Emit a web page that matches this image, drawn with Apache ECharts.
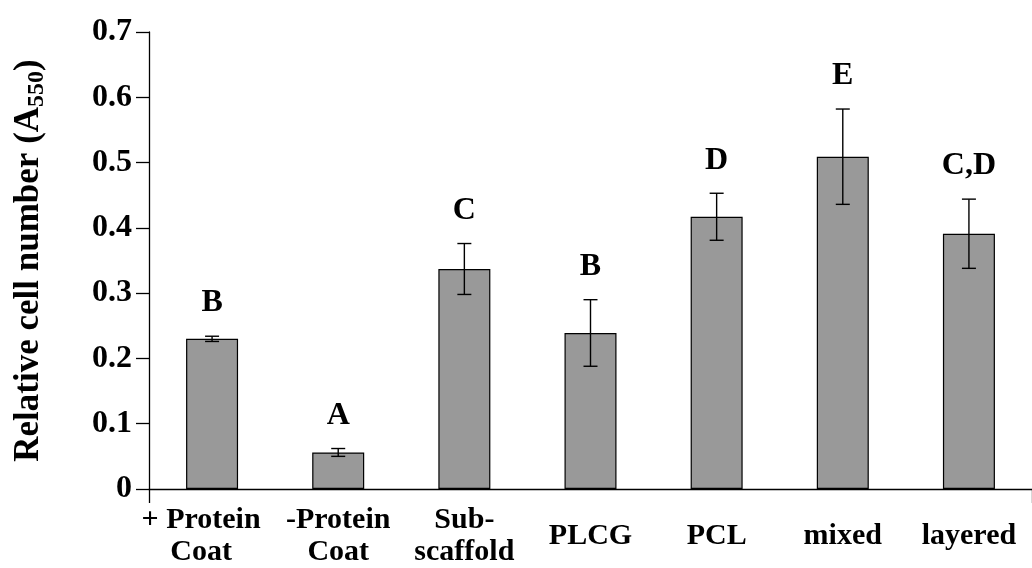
<!DOCTYPE html>
<html>
<head>
<meta charset="utf-8">
<script src="https://cdn.jsdelivr.net/npm/echarts@6/dist/echarts.min.js"></script>
<style>
html,body{margin:0;padding:0;background:#fff;}
#chart{width:1032px;height:568px;}
</style>
</head>
<body>
<div id="chart"></div>
<script>
var categories = ['+ Protein\nCoat', '-Protein\nCoat', 'Sub-\nscaffold', 'PLCG', 'PCL', 'mixed', 'layered'];
var means = [0.230, 0.056, 0.337, 0.239, 0.417, 0.509, 0.391];
var errors = [0.004, 0.006, 0.039, 0.051, 0.036, 0.073, 0.053];
var letters = ['B', 'A', 'C', 'B', 'D', 'E', 'C,D'];

var serif = 'Liberation Serif';
var errData = means.map(function (m, i) { return [i, m, errors[i], letters[i]]; });

var chart = echarts.init(document.getElementById('chart'), null, {renderer: 'canvas'});
chart.setOption({
  animation: false,
  backgroundColor: '#fff',
  grid: {left: 149, right: -10, top: 32, bottom: 79, containLabel: false},
  xAxis: {
    type: 'category',
    data: categories,
    boundaryGap: true,
    axisLine: {show: true, lineStyle: {color: '#000', width: 1.3}},
    axisTick: {show: true, length: 14, inside: false, interval: function (i) { return i === 0; }, lineStyle: {color: '#000', width: 1.3}},
    axisLabel: {
      interval: 0,
      margin: 47,
      verticalAlign: 'middle',
      color: '#000',
      fontFamily: serif,
      fontWeight: 'bold',
      fontSize: 30,
      lineHeight: 32,
      formatter: function (v, i) {
        var lines = v.split('\n');
        var tag = i === 0 ? 'f' : 'n';
        return lines.map(function (l) { return '{' + tag + '|' + l + '}'; }).join('\n');
      },
      rich: {
        f: {fontFamily: serif, fontWeight: 'bold', fontSize: 30, lineHeight: 32, color: '#000', padding: [0, 22, 0, 0]},
        n: {fontFamily: serif, fontWeight: 'bold', fontSize: 30, lineHeight: 32, color: '#000'}
      }
    },
    splitLine: {show: false}
  },
  yAxis: {
    type: 'value',
    min: 0,
    max: 0.7,
    interval: 0.1,
    name: 'Relative cell number (A{sub|550})',
    nameLocation: 'middle',
    nameGap: 100,
    nameTextStyle: {
      color: '#000', fontFamily: serif, fontWeight: 'bold', fontSize: 35, lineHeight: 40,
      rich: {
        sub: {color: '#000', fontFamily: serif, fontWeight: 'bold', fontSize: 24, lineHeight: 24, verticalAlign: 'bottom'}
      }
    },
    axisLine: {show: true, lineStyle: {color: '#000', width: 1.3}},
    axisTick: {show: true, length: 13, inside: false, lineStyle: {color: '#000', width: 1.3}},
    axisLabel: {
      margin: 17,
      color: '#000',
      fontFamily: serif,
      fontWeight: 'bold',
      fontSize: 32,
      formatter: function (v) { return v === 0 ? '0' : v.toFixed(1); }
    },
    splitLine: {show: false}
  },
  series: [
    {
      type: 'bar',
      data: means,
      barWidth: 52,
      itemStyle: {color: '#999999', borderColor: '#000', borderWidth: 1.2}
    },
    {
      type: 'custom',
      data: errData,
      z: 10,
      renderItem: function (params, api) {
        var i = api.value(0), m = api.value(1), e = api.value(2);
        var top = api.coord([i, m + e]);
        var bot = api.coord([i, m - e]);
        var x = top[0];
        var hw = 7;
        var st = {stroke: '#000', lineWidth: 1.4};
        return {
          type: 'group',
          children: [
            {type: 'line', shape: {x1: x, y1: top[1], x2: x, y2: bot[1]}, style: st},
            {type: 'line', shape: {x1: x - hw, y1: top[1], x2: x + hw, y2: top[1]}, style: st},
            {type: 'line', shape: {x1: x - hw, y1: bot[1], x2: x + hw, y2: bot[1]}, style: st},
            {type: 'text', x: x, y: top[1] - 17, style: {
              text: letters[params.dataIndex], fill: '#000', font: 'bold 32px "Liberation Serif"',
              textAlign: 'center', textVerticalAlign: 'bottom'
            }}
          ]
        };
      }
    }
  ]
});
</script>
</body>
</html>
